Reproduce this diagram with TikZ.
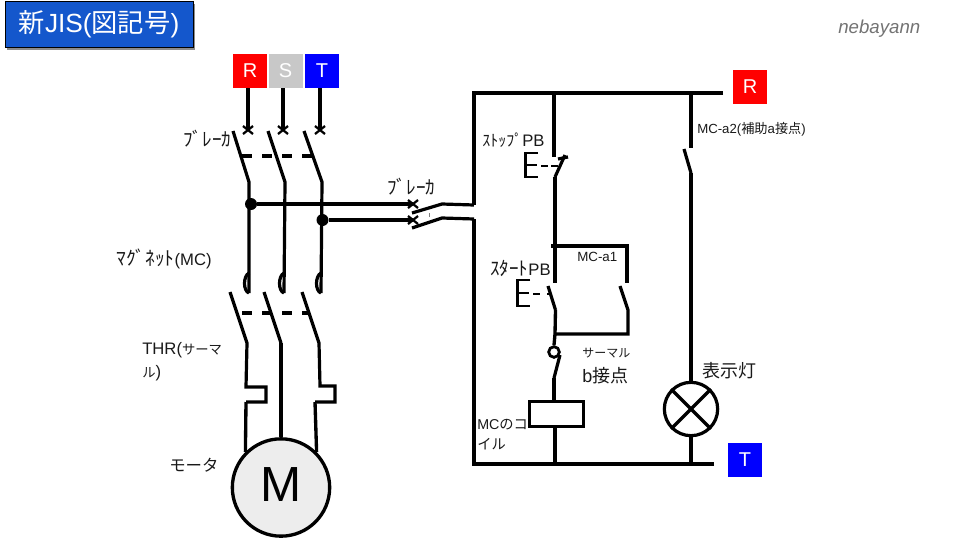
\documentclass[tikz,border=0pt]{standalone}
\usepackage{fontspec}
\setmainfont{Liberation Sans}
\newfontfamily\cjk{Noto Sans CJK JP}
\definecolor{titleblue}{HTML}{1457CC}
\definecolor{phasegray}{HTML}{C8C8C8}
\definecolor{motorgray}{HTML}{EDEDED}
\tikzset{
    wire/.style={line width=2.5pt},
    blade/.style={line width=2.4pt},
    xmark/.style={line width=1.7pt},
    gang/.style={line width=2.5pt,dash pattern=on 7.8pt off 7.2pt},
    phasebox/.style={minimum size=25.5pt,inner sep=0,text=white,font=\fontsize{15pt}{15pt}\selectfont},
    titlebox/.style={minimum width=141pt,minimum height=34.5pt,inner sep=0},
    junction/.style={circle,fill=black,inner sep=0,minimum size=9pt},
    lbl/.style={inner sep=0,align=left,anchor=west,text=black!90},
}
\begin{document}
\begin{tikzpicture}[x=.75pt,y=-.75pt]
    \providecommand{\hankana}[1]{\cjk\fontsize{#1}{17pt}\selectfont}
    \providecommand{\latinfontsize}{\fontsize{12.5pt}{17.2pt}\selectfont}
    \useasboundingbox (0,0) rectangle (960,540);
    \node[titlebox,fill=black!45] (titleshadow) at (100.5,26.5) {};
    \node[titlebox,fill=titleblue,draw=black,line width=.6pt,text=white,font=\fontsize{19.7pt}{20pt}\selectfont] (title) at (99,24) {\raisebox{-6pt}{{\cjk 新}JIS({\cjk 図記号})}\hspace{7pt}};
    \node[lbl,text=black!55,font=\fontsize{14pt}{14pt}\itshape] (author) at (838,29) {nebayann};
    % power side
    \node[phasebox,fill=red] (rtop) at (250,71) {R};
    \node[phasebox,fill=phasegray] (stop) at (285.5,71) {S};
    \node[phasebox,fill=blue] (ttop) at (322,71) {T};
    \coordinate (rx) at (248,130);
    \coordinate (sx) at (283,130);
    \coordinate (tx) at (320,130);
    \draw[wire] (rtop.south -| rx) -- (rx);
    \draw[wire] (stop.south -| sx) -- (sx);
    \draw[wire] (ttop.south -| tx) -- (tx);
    \draw[xmark] (243,126) -- (253,134) (253,126) -- (243,134);
    \draw[xmark] (278,126) -- (288,134) (288,126) -- (278,134);
    \draw[xmark] (315,126) -- (325,134) (325,126) -- (315,134);
    \draw[blade] (233,131) -- (249,182) -- (249,293);
    \draw[blade] (268,131) -- (285,182) -- (284,293);
    \draw[blade] (304,131) -- (322,182) -- (321,293);
    \draw[gang] (242,156) -- (313,156);
    \draw[blade] (249,273) .. controls (243,276) and (243,291) .. (249,293);
    \draw[blade] (284,273) .. controls (278,276) and (278,291) .. (284,293);
    \draw[blade] (321,273) .. controls (315,276) and (315,291) .. (321,293);
    \draw[blade] (230,292) -- (247,343) -- (246,387) -- (266,387) -- (266,402) -- (246,402);
    \draw[blade] (264,292) -- (281,343);
    \draw[blade] (302,292) -- (319,343) -- (320,386) -- (335,386) -- (335,402) -- (315,402);
    \draw[gang] (242,313) -- (310,313);
    \node[circle,draw=black,line width=2.5pt,fill=motorgray,minimum size=73pt,inner sep=0,text depth=4pt,font=\fontsize{37pt}{37pt}\selectfont] (motor) at (281,487.5) {M};
    \draw[wire] (246,402) -- (motor.135);
    \draw[wire] (281,343) -- (motor.north);
    \draw[wire] (315,402) -- (motor.45);
    % tap to control side
    \node[junction] (jr) at (251,204) {};
    \node[junction] (jt) at (322.5,220) {};
    \coordinate (bx) at (413,204);
    \coordinate (cx) at (413,220);
    \draw[wire] (jr) -- (bx);
    \draw[wire] (jt) -- (cx);
    \draw[xmark] (408,200) -- (418,208) (418,200) -- (408,208);
    \draw[xmark] (408,216) -- (418,224) (418,216) -- (408,224);
    \coordinate (bend) at (474,205);
    \coordinate (cend) at (474,219);
    \draw[blade] (412,213) -- (442,204) -- (bend);
    \draw[blade] (412,228) -- (442,218) -- (cend);
    \draw[line width=.5pt,black!50] (429,213) -- (429,217);
    % control side
    \node[phasebox,fill=red] (rright) at (750,87) {R};
    \node[phasebox,fill=blue] (tright) at (745,460) {T};
    \coordinate (tl) at (474,93);
    \coordinate (bl) at (474,464);
    \draw[wire] (723,93) -- (tl) -- (bend);
    \draw[wire] (714,464) -- (bl) -- (cend);
    % stop
    \draw[wire] (554,93) -- (554,157);
    \draw[blade] (555,177) -- (565,155);
    \draw[blade] (558,159) -- (568,157);
    \draw[line width=2.1pt] (538,153) -- (525.5,153) -- (525.5,177) -- (538,177) (525.5,165) -- (537,165);
    \draw[line width=1.6pt] (541,166) -- (548,166) (551,166) -- (558,166);
    \draw[wire] (555,177) -- (555,283);
    % start
    \coordinate (mctop) at (627,246);
    \draw[wire] (551,246) -- (mctop) -- (627,283);
    \draw[blade] (620,286) -- (628,310) -- (628,334) -- (555,334);
    \draw[blade] (548,286) -- (555.5,310);
    \draw[line width=2.1pt] (530,280) -- (517.5,280) -- (517.5,306) -- (530,306) (517.5,293) -- (529,293);
    \draw[line width=1.6pt] (533,294) -- (540,294) (547,294) -- (552,294);
    \draw[wire] (555.5,310) -- (555,334);
    % thermal b contact
    \node[circle,draw=black,line width=2.1pt,fill=white,minimum size=8pt,inner sep=0] (thr) at (554,352) {};
    \draw[wire] (555,334) -- (thr.north);
    \draw[blade] (560,355) -- (554,378);
    \node[draw=black,line width=2.4pt,fill=white,minimum width=41pt,minimum height=18.5pt,inner sep=0] (coil) at (556.5,414) {};
    \draw[wire] (554,378) -- (554,401);
    \draw[wire] (555,427) -- (555,464);
    % lamp side
    \draw[wire] (691,93) -- (691,148);
    \draw[blade] (684,149) -- (691,173);
    \node[circle,draw=black,line width=2.4pt,minimum size=40pt,inner sep=0] (lamp) at (691,409) {};
    \draw[wire] (691,173) -- (lamp.north);
    \draw[wire] (lamp.south) -- (691,464);
    \draw[wire] (lamp.45) -- (lamp.225);
    \draw[wire] (lamp.135) -- (lamp.315);
    % labels
    \node[lbl] (l1) at (183,139) {\hankana{14.4pt}ﾌﾞﾚｰｶ};
    \node[lbl,font=\latinfontsize] (l2) at (116,259) {{\hankana{14.6pt}ﾏｸﾞﾈｯﾄ}(MC)};
    \node[lbl,font=\latinfontsize] (l3) at (142,362) {THR({\hankana{10pt}サーマ}\\{\hankana{10pt}ル})};
    \node[lbl,font=\fontsize{12.3pt}{14pt}\selectfont] (l4) at (169,465) {\cjk モータ};
    \node[lbl] (l5) at (387,187) {\hankana{14.4pt}ﾌﾞﾚｰｶ};
    \node[lbl,font=\latinfontsize] (l6) at (482,140) {{\hankana{12pt}ｽﾄｯﾌﾟ}PB};
    \node[lbl,font=\latinfontsize] (l7) at (490,268) {{\hankana{14.3pt}ｽﾀｰﾄ}PB};
    \node[lbl,font=\fontsize{10pt}{12pt}\selectfont] (l8) at (577,257) {MC-a1};
    \node[lbl,font=\fontsize{13.5pt}{18.5pt}\selectfont] (l9) at (582,366) {{\hankana{9pt}サーマル}\\{b\cjk 接点}};
    \node[lbl,font=\fontsize{10.7pt}{15pt}\selectfont] (l10) at (477,434.5) {MC{\cjk のコ}\\{\cjk イル}};
    \node[lbl,font=\fontsize{9.9pt}{12pt}\selectfont] (l11) at (697,129) {MC-a2({\cjk 補助}a{\cjk 接点})};
    \node[lbl,font=\fontsize{13.5pt}{15pt}\selectfont] (l12) at (702,371) {\cjk 表示灯};
\end{tikzpicture}
\end{document}
